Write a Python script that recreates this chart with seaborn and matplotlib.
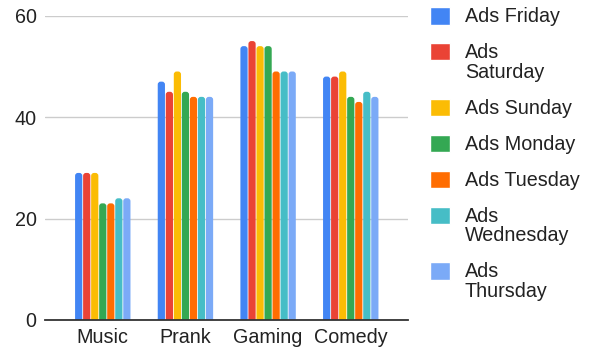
import pandas as pd
import matplotlib
matplotlib.use("Agg")
import matplotlib.pyplot as plt
from matplotlib.patches import FancyBboxPatch
import seaborn as sns

categories = ["Music", "Prank", "Gaming", "Comedy"]
series = ["Ads Friday", "Ads\nSaturday", "Ads Sunday", "Ads Monday",
          "Ads Tuesday", "Ads\nWednesday", "Ads\nThursday"]
ads_friday = [29, 47, 54, 48]
ads_saturday = [29, 45, 55, 48]
ads_sunday = [29, 49, 54, 49]
ads_monday = [23, 45, 54, 44]
ads_tuesday = [23, 44, 49, 43]
ads_wednesday = [24, 44, 49, 45]
ads_thursday = [24, 44, 49, 44]
colors = ["#4285F4", "#EA4335", "#FBBC04", "#34A853", "#FF6D01", "#46BDC6", "#7BAAF7"]

values = [ads_friday, ads_saturday, ads_sunday, ads_monday,
          ads_tuesday, ads_wednesday, ads_thursday]
rows = []
for name, vals in zip(series, values):
    for cat, v in zip(categories, vals):
        rows.append({"category": cat, "series": name, "value": v})
df = pd.DataFrame(rows)

sns.set_style("white")
plt.rcParams["font.family"] = ["Liberation Sans", "DejaVu Sans"]

fig = plt.figure(figsize=(5.91, 3.53), dpi=100)
ax = fig.add_axes([0.076, 0.0935, 0.614, 0.862])

sns.barplot(data=df, x="category", y="value", hue="series", palette=colors,
            width=0.68, gap=0.1, saturation=1, ax=ax, errorbar=None)

ax.set_ylim(0, 60)
ax.set_xlim(-0.7, 3.69)
ax.set_yticks([0, 20, 40, 60])
ax.yaxis.grid(True, color="#cccccc", linewidth=1)
ax.set_axisbelow(True)
for s in ["top", "right", "left"]:
    ax.spines[s].set_visible(False)
ax.spines["bottom"].set_color("#333333")
ax.spines["bottom"].set_linewidth(1.3)
ax.tick_params(axis="both", length=0, labelsize=14.2, colors="#222222", pad=6)
ax.set_xlabel("")
ax.set_ylabel("")

leg = ax.legend(loc="upper left", bbox_to_anchor=(1.04, 1.055), frameon=False,
                fontsize=14.2, handlelength=1.0, handleheight=1.0,
                handletextpad=0.75, labelspacing=0.86, borderaxespad=0)
for t in leg.get_texts():
    t.set_color("#222222")
    t.set_linespacing(1.06)
# align each handle with the first line of its label
for col in leg._legend_handle_box.get_children():
    for hp in col.get_children():
        hp.align = "top"

# rounded bar tops (like the original chart)
px_x = ax.bbox.width / (ax.get_xlim()[1] - ax.get_xlim()[0])
px_y = ax.bbox.height / (ax.get_ylim()[1] - ax.get_ylim()[0])
aspect = px_x / px_y
for p in list(ax.patches):
    x, y, w, h = p.get_x(), p.get_y(), p.get_width(), p.get_height()
    r = w * 0.4
    ry = r * aspect
    rounded = FancyBboxPatch((x, y - ry), w, h + ry,
                             boxstyle=f"round,pad=0,rounding_size={r}",
                             mutation_aspect=aspect,
                             facecolor=p.get_facecolor(), edgecolor="none")
    p.remove()
    ax.add_patch(rounded)

fig.savefig("out.png", dpi=100)
